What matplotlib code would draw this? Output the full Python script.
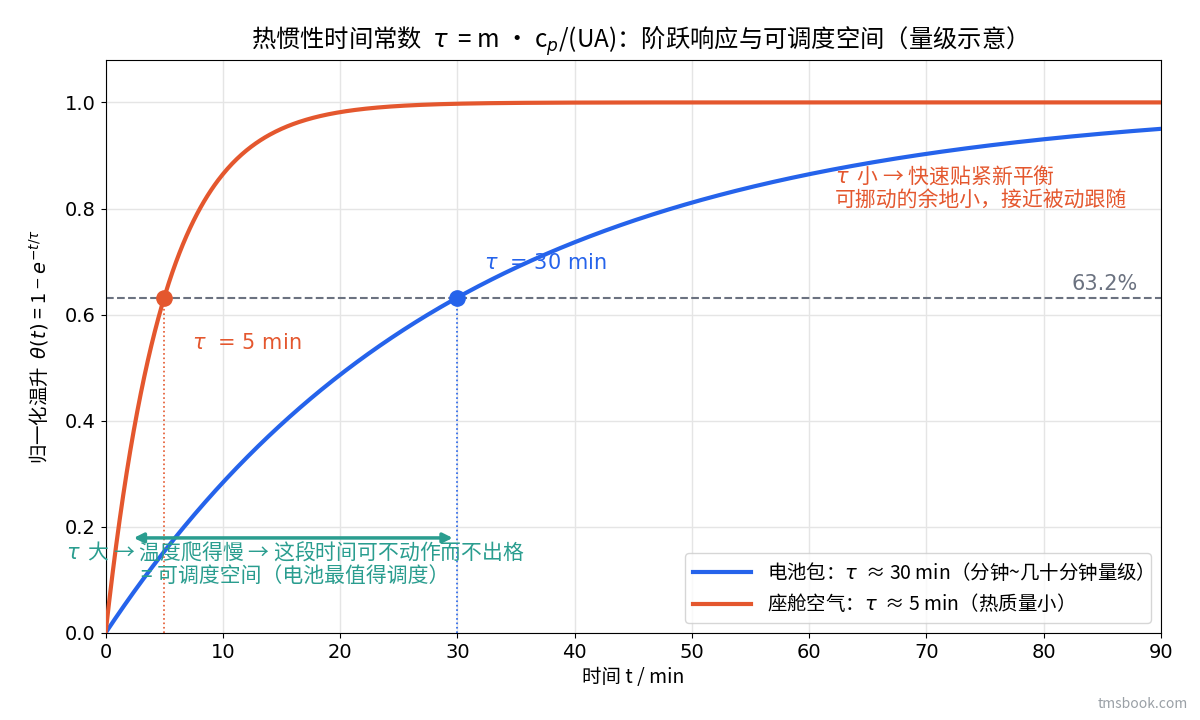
import numpy as np
import matplotlib
matplotlib.use("Agg")
import matplotlib.pyplot as plt

plt.rcParams['font.family'] = ['Noto Sans CJK SC', 'DejaVu Sans']
plt.rcParams['axes.unicode_minus'] = False

# time constants (min) and labels
tau_battery = 30
tau_cabin = 5
t_max = 90
level_632 = 0.632
t = np.linspace(0, t_max, 901)

label_battery = '电池包：$\\tau$  ≈ 30 min（分钟~几十分钟量级）'
label_cabin = '座舱空气：$\\tau$  ≈ 5 min（热质量小）'

blue = '#2563eb'
orange = '#e4572e'
teal = '#2a9d8f'
gray = '#6b7280'

theta_battery = 1 - np.exp(-t / tau_battery)
theta_cabin = 1 - np.exp(-t / tau_cabin)

fig = plt.figure(figsize=(12, 7.2), dpi=100)
ax = fig.add_axes([0.088, 0.121, 0.8795, 0.7957])

ax.plot(t, theta_battery, color=blue, lw=3, label=label_battery, zorder=3)
ax.plot(t, theta_cabin, color=orange, lw=3, label=label_cabin, zorder=3)

ax.axhline(level_632, color=gray, ls='--', lw=1.5, zorder=2)
ax.text(88, level_632 + 0.006, '63.2%', color=gray, fontsize=15, ha='right', va='bottom',
        family='DejaVu Sans')

for tau, c in [(tau_cabin, orange), (tau_battery, blue)]:
    ax.plot([tau, tau], [0, level_632], color=c, ls=':', lw=1.2, zorder=2)
    ax.plot(tau, level_632, 'o', color=c, ms=11, zorder=4)

ax.text(32.3, 0.697, '$\\tau$  = 30 min', color=blue, fontsize=15, va='center',
        family='DejaVu Sans')
ax.text(7.4, 0.546, '$\\tau$  = 5 min', color=orange, fontsize=15, va='center',
        family='DejaVu Sans')

ax.text(62.2, 0.84, '$\\tau$  小 → 快速贴紧新平衡\n可挪动的余地小，接近被动跟随',
        color=orange, fontsize=15, va='center', ha='left', linespacing=1.1)

ax.annotate('', xy=(2.4, 0.179), xytext=(29.6, 0.179),
            arrowprops=dict(arrowstyle='<|-|>', color=teal, lw=2.5,
                            mutation_scale=14, shrinkA=0, shrinkB=0))
ax.text(16.2, 0.131, '$\\tau$  大 → 温度爬得慢 → 这段时间可不动作而不出格\n= 可调度空间（电池最值得调度）',
        color=teal, fontsize=15, ha='center', va='center', linespacing=1.1)

ax.set_xlim(0, t_max)
ax.set_ylim(0, 1.08)
ax.set_xticks(np.arange(0, 91, 10))
ax.set_yticks(np.arange(0, 1.01, 0.2))
ax.tick_params(labelsize=14, labelfontfamily='DejaVu Sans')
ax.grid(True, color='#e5e5e5', lw=1)
ax.set_axisbelow(True)

ax.set_xlabel('时间 t / min', fontsize=14)
ax.set_ylabel('归一化温升  $\\theta(t)$ = 1 − $e^{-t/\\tau}$', fontsize=14, labelpad=10)
ax.set_title('热惯性时间常数  $\\tau$  = m · c$_p$/(UA)：阶跃响应与可调度空间（量级示意）',
             fontsize=17.5, pad=9)

ax.legend(loc='lower right', fontsize=14, frameon=True, edgecolor='#cccccc',
          handlelength=3)

fig.text(0.99, 0.012, 'tmsbook.com', color='#9aa0a6', fontsize=10, ha='right', va='bottom')

fig.savefig('out.png', dpi=100)
